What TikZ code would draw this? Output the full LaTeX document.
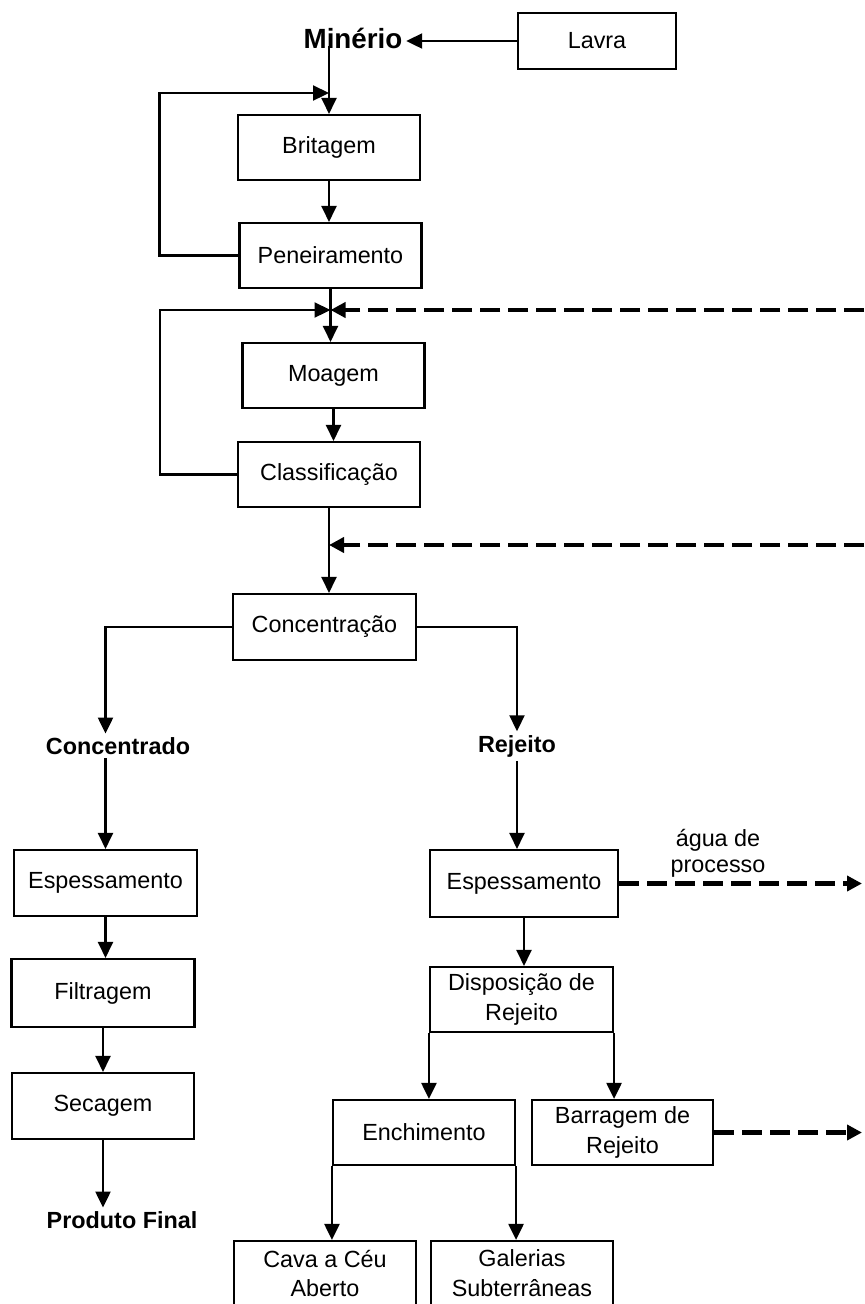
\documentclass[tikz,border=0pt]{standalone}
\usepackage{fontspec}
\setmainfont{Liberation Sans}
\usetikzlibrary{arrows.meta, positioning, calc}

\tikzset{
  box/.style={draw=black, line width=1.2pt, align=center, inner sep=2pt,
    minimum width=3.64cm, minimum height=1.3cm, font=\fontsize{13.3}{17}\selectfont},
  tag/.style={inner sep=2pt, font=\bfseries\fontsize{13.3}{17}\selectfont},
  pipe/.style={line width=1.3pt},
  flow/.style={pipe, -{Triangle[length=0.32cm, width=0.3cm]}},
  water/.style={line width=2.3pt, dash pattern=on 0.4cm off 0.16cm,
    -{Triangle[length=0.3cm, width=0.3cm]}}
}

\begin{document}
\begin{tikzpicture}
  \useasboundingbox (0,0) rectangle (17.28,-26.08);
  \clip (0,0) rectangle (17.28,-26.08);

  % main line
  \node[tag, font=\bfseries\fontsize{15.8}{18}\selectfont] (minerio) at (7.06,-0.76) {Minério};
  \node[box, minimum width=3.16cm, minimum height=1.12cm] (lavra) at (11.94,-0.82) {Lavra};
  \node[box] (britagem) at (6.58,-2.95) {Britagem};
  \node[box] (peneiramento) at (6.61,-5.11) {Peneiramento};
  \node[box] (moagem) at (6.67,-7.51) {Moagem};
  \node[box] (classificacao) at (6.58,-9.49) {Classificação};
  \node[box, minimum width=3.66cm, minimum height=1.32cm] (concentracao) at (6.49,-12.54) {Concentração};

  % products
  \node[tag] (concentrado) at (2.36,-14.92) {Concentrado};
  \node[tag] (rejeito) at (10.34,-14.92) {Rejeito};

  % concentrate side
  \node[box, minimum width=3.66cm, minimum height=1.32cm] (esp1) at (2.11,-17.66) {Espessamento};
  \node[box, minimum width=3.66cm, minimum height=1.36cm] (filtragem) at (2.06,-19.86) {Filtragem};
  \node[box, minimum height=1.32cm] (secagem) at (2.06,-22.12) {Secagem};
  \node[tag] (produto) at (2.44,-24.4) {Produto Final};

  % tailings side
  \node[box, minimum width=3.76cm, minimum height=1.34cm] (esp2) at (10.48,-17.67) {Espessamento};
  \node[align=center, inner sep=1pt, font=\fontsize{13.3}{15}\selectfont] (agua) at (14.36,-17.06) {água de\\processo};
  \node[box, minimum width=3.66cm] (disposicao) at (10.43,-19.99) {Disposição de\\Rejeito};
  \node[box] (enchimento) at (8.48,-22.65) {Enchimento};
  \node[box, minimum width=3.62cm] (barragem) at (12.45,-22.65) {Barragem de\\Rejeito};
  \node[box] (cava) at (6.5,-25.47) {Cava a Céu\\Aberto};
  \node[box] (galerias) at (10.44,-25.47) {Galerias\\Subterrâneas};

  % junctions and free ends
  \coordinate (j1) at (britagem.north |- 0,-1.86);
  \coordinate (j2) at (peneiramento.south |- 0,-6.2);
  \coordinate (j3) at (classificacao.south |- 0,-10.9);
  \coordinate (w1) at (17.28,-6.2);
  \coordinate (w2) at (17.28,-10.9);
  \coordinate (w3) at (17.24,-17.67);
  \coordinate (w4) at (17.24,-22.65);

  % crushing and grinding circuit
  \draw[flow] (lavra.west) -- (lavra.west -| minerio.east);
  \draw[flow] ([yshift=0.12cm]minerio.south -| britagem.north) -- (britagem.north);
  \draw[flow] (peneiramento.west) -- ++(-1.58,0) |- (j1);
  \draw[flow] (britagem.south) -- (britagem.south |- peneiramento.north);
  \draw[flow] (peneiramento.south) -- (peneiramento.south |- moagem.north);
  \draw[flow] (classificacao.west) -- ++(-1.54,0) |- (j2);
  \draw[water] (w1) -- (j2);
  \draw[flow] (moagem.south) -- (moagem.south |- classificacao.north);
  \draw[flow] (classificacao.south) -- (classificacao.south |- concentracao.north);
  \draw[water] (w2) -- (j3);

  % split
  \draw[flow] (concentracao.west) -| (esp1.north |- concentrado.north);
  \draw[flow] (concentracao.east) -| (rejeito.north);

  % concentrate
  \draw[flow] (concentrado.south -| esp1.north) -- (esp1.north);
  \draw[flow] (esp1.south) -- (esp1.south |- filtragem.north);
  \draw[flow] (filtragem.south) -- (filtragem.south |- secagem.north);
  \draw[flow] (secagem.south) -- (secagem.south |- produto.north);

  % tailings
  \draw[flow] (rejeito.south) -- (rejeito.south |- esp2.north);
  \draw[water] (esp2.east) -- (w3);
  \draw[flow] (esp2.south) -- (esp2.south |- disposicao.north);
  \draw[flow] (disposicao.south west) -- (disposicao.south west |- enchimento.north);
  \draw[flow] (disposicao.south east) -- (disposicao.south east |- barragem.north);
  \draw[water] (barragem.east) -- (w4);
  \draw[flow] (enchimento.south west) -- (enchimento.south west |- cava.north);
  \draw[flow] (enchimento.south east) -- (enchimento.south east |- galerias.north);
\end{tikzpicture}
\end{document}
